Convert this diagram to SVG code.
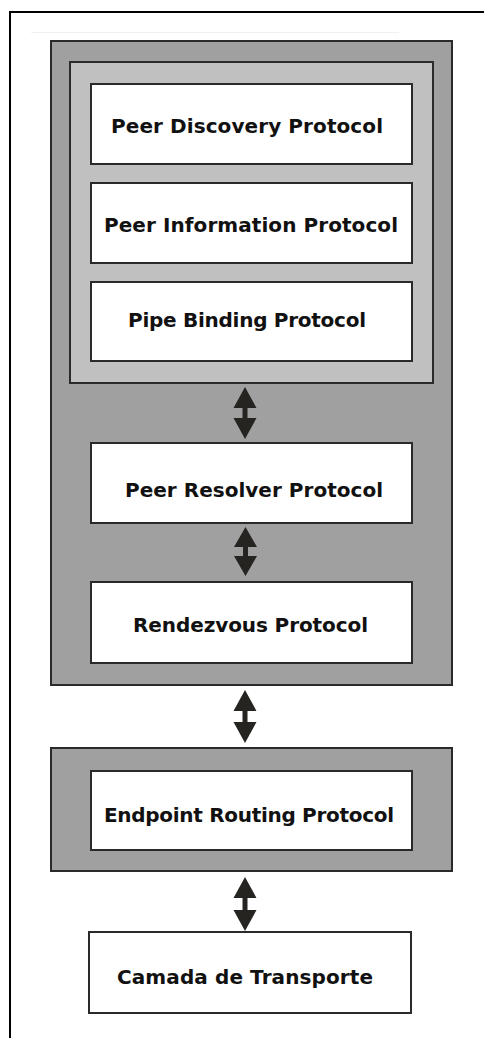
<svg xmlns="http://www.w3.org/2000/svg" width="484" height="1038" viewBox="0 0 484 1038">
  <style>
    .frame { fill: none; stroke: #000; stroke-width: 2; }
    .outer { fill: #a0a0a0; stroke: #2a2a2a; stroke-width: 2; }
    .inner { fill: #c0c0c0; stroke: #2a2a2a; stroke-width: 2; }
    .box { fill: #fff; stroke: #2a2a2a; stroke-width: 2; }
    .label { font-family: "DejaVu Sans", Verdana, sans-serif; font-weight: bold; font-size: 20px; fill: #111; }
    .arrow { fill: #262420; }
  </style>

  <!-- page frame: top and left rules -->
  <path class="frame" d="M484,12 H10 V1038"/>
  <line x1="31" y1="32.5" x2="399" y2="32.5" stroke="#f0f0f0" stroke-width="1"/>

  <!-- upper protocol stack container -->
  <g id="stack">
    <rect class="outer" x="51" y="41" width="401" height="644"/>
    <rect class="inner" x="70" y="62" width="363" height="321"/>
  </g>

  <g id="peer-discovery">
    <rect class="box" x="91" y="84" width="321" height="80"/>
    <text class="label" x="111" y="133" textLength="272" lengthAdjust="spacing">Peer Discovery Protocol</text>
  </g>
  <g id="peer-information">
    <rect class="box" x="91" y="183" width="321" height="80"/>
    <text class="label" x="104" y="232" textLength="294" lengthAdjust="spacing">Peer Information Protocol</text>
  </g>
  <g id="pipe-binding">
    <rect class="box" x="91" y="282" width="321" height="79"/>
    <text class="label" x="128" y="327" textLength="238" lengthAdjust="spacing">Pipe Binding Protocol</text>
  </g>
  <g id="peer-resolver">
    <rect class="box" x="91" y="443" width="321" height="80"/>
    <text class="label" x="125" y="497" textLength="258" lengthAdjust="spacing">Peer Resolver Protocol</text>
  </g>
  <g id="rendezvous">
    <rect class="box" x="91" y="582" width="321" height="81"/>
    <text class="label" x="133" y="632" textLength="235" lengthAdjust="spacing">Rendezvous Protocol</text>
  </g>

  <!-- endpoint layer -->
  <g id="endpoint-layer">
    <rect class="outer" x="51" y="748" width="401" height="123"/>
  </g>
  <g id="endpoint-routing">
    <rect class="box" x="91" y="771" width="321" height="79"/>
    <text class="label" x="104" y="822" textLength="290" lengthAdjust="spacing">Endpoint Routing Protocol</text>
  </g>

  <g id="transport">
    <rect class="box" x="89" y="932" width="322" height="81"/>
    <text class="label" x="117" y="984" textLength="256" lengthAdjust="spacing">Camada de Transporte</text>
  </g>

  <!-- double-headed connectors between layers -->
  <g id="connectors">
    <path class="arrow" d="M245,387 L256.5,408 L247.5,408 L247.5,418 L256.5,418 L245,439 L233.5,418 L242.5,418 L242.5,408 L233.5,408 Z"/>
    <path class="arrow" d="M245.5,527 L257,547 L248,547 L248,556 L257,556 L245.5,576 L234,556 L243,556 L243,547 L234,547 Z"/>
    <path class="arrow" d="M245,690 L256.5,711 L247.5,711 L247.5,722 L256.5,722 L245,743 L233.5,722 L242.5,722 L242.5,711 L233.5,711 Z"/>
    <path class="arrow" d="M245,877 L256.5,898 L247.5,898 L247.5,910 L256.5,910 L245,931 L233.5,910 L242.5,910 L242.5,898 L233.5,898 Z"/>
  </g>
</svg>
